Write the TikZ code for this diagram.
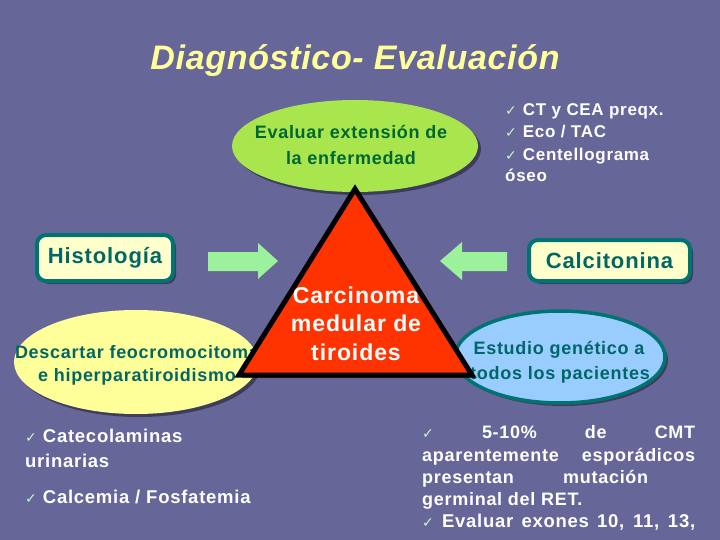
\documentclass[tikz,border=0pt]{standalone}
\usepackage{fontspec}
\setmainfont{Liberation Sans}[LetterSpace=4]
\newfontfamily\symfont{DejaVu Sans}
\usetikzlibrary{shapes.geometric,shadows}
\definecolor{bg}{HTML}{666699}
\definecolor{titleyellow}{HTML}{FFFF99}
\definecolor{limegreen}{HTML}{A9E64D}
\definecolor{darkgreen}{HTML}{006633}
\definecolor{teal}{HTML}{006666}
\definecolor{tealborder}{HTML}{007373}
\definecolor{paleyellow}{HTML}{FFFFCC}
\definecolor{ellyellow}{HTML}{FFFF99}
\definecolor{ellblue}{HTML}{99CCFF}
\definecolor{tred}{HTML}{FF3300}
\definecolor{arrowgreen}{HTML}{9CF29C}
\definecolor{checkgreen}{HTML}{C8F8C8}
\newcommand{\chk}{{\symfont\fontsize{14}{14}\selectfont\color{checkgreen}✓}}
\newcommand{\fsz}[1]{\fontsize{#1}{#1}\selectfont}
\begin{document}
\begin{tikzpicture}[x=1pt,y=-1pt,
  shad/.style={drop shadow={shadow xshift=3pt,shadow yshift=-3pt,fill=black,opacity=0.4}},
  txt/.style={inner sep=0pt,anchor=base,font=\bfseries},
  wline/.style={inner sep=0pt,anchor=base west,text=white,font=\bfseries},
  box/.style={draw=tealborder,line width=4pt,rounded corners=9pt,fill=paleyellow,text=teal,font=\fsz{22}\bfseries,inner sep=0pt,shad},
  oval/.style={ellipse,inner sep=0pt,shad}
]
\fill[bg] (0,0) rectangle (720,540);
\useasboundingbox (0,0) rectangle (720,540);

% title
\node[txt,text=titleyellow,font=\fsz{34}\bfseries\itshape] (title) at (355,70) {\addfontfeature{LetterSpace=2}Diagnóstico- Evaluación};

% green ellipse
\node[oval,fill=limegreen,minimum width=246pt,minimum height=92pt] (green) at (355,146) {};
\node[txt,text=darkgreen,font=\fsz{18}\bfseries] (g1) at (351,139) {Evaluar extensión de};
\node[txt,text=darkgreen,font=\fsz{18}\bfseries] (g2) at (351,165) {la enfermedad};

% top right list
\node[wline,font=\fsz{17}\bfseries] (tr1) at (505,116) {\chk\hspace{6pt}CT y CEA preqx.};
\node[wline,font=\fsz{17}\bfseries] (tr2) at (505,138) {\chk\hspace{6pt}Eco / TAC};
\node[wline,font=\fsz{17}\bfseries] (tr3) at (505,161) {\chk\hspace{6pt}Centellograma};
\node[wline,font=\fsz{17}\bfseries] (tr4) at (505,182) {óseo};

% boxes
\node[box,minimum width=136pt,minimum height=46pt] (histo) at (105,258) {Histología};
\node[box,minimum width=161pt,minimum height=41pt] (calci) at (609.5,260.5) {Calcitonina};

% block arrows
\fill[arrowgreen] (208,252) -- (258,252) -- (258,243) -- (278,261) -- (258,279) -- (258,271) -- (208,271) -- cycle;
\fill[arrowgreen] (507,252) -- (462,252) -- (462,242) -- (440,261) -- (462,280) -- (462,271) -- (507,271) -- cycle;

% yellow ellipse
\node[oval,fill=ellyellow,minimum width=244pt,minimum height=104pt] (yell) at (136,362) {};
\node[txt,text=teal,font=\fsz{18}\bfseries] (y1) at (137,358) {Descartar feocromocitoma};
\node[txt,text=teal,font=\fsz{18}\bfseries] (y2) at (137,381) {e hiperparatiroidismo};

% blue ellipse
\node[oval,fill=ellblue,draw=tealborder,line width=3.5pt,minimum width=210pt,minimum height=92pt] (blue) at (560,357) {};
\node[txt,text=teal,font=\fsz{18}\bfseries] (b1) at (559,354) {Estudio genético a};
\node[txt,text=teal,font=\fsz{18}\bfseries] (b2) at (560,379) {todos los pacientes};

% triangle
\draw[fill=tred,line width=5pt,line join=miter,shad] (355,189) -- (239,375) -- (472,375) -- cycle;
\node[txt,text=white,font=\fsz{23}\bfseries] (c1) at (356,303) {Carcinoma};
\node[txt,text=white,font=\fsz{23}\bfseries] (c2) at (356,331) {medular de};
\node[txt,text=white,font=\fsz{23}\bfseries] (c3) at (356,360) {tiroides};

% bottom left list
\node[wline,font=\fsz{18.5}\bfseries] (bl1) at (25,442) {\chk\hspace{6pt}Catecolaminas};
\node[wline,font=\fsz{18.5}\bfseries] (bl2) at (25,467) {urinarias};
\node[wline,font=\fsz{18.5}\bfseries] (bl3) at (25,503) {\chk\hspace{6pt}Calcemia / Fosfatemia};

% bottom right list
\node[wline,font=\fsz{18}\bfseries] (br1) at (422,438) {\makebox[273pt][s]{\chk\ 5-10\% de CMT}};
\node[wline,font=\fsz{18}\bfseries] (br2) at (422,461) {\makebox[273pt][s]{aparentemente esporádicos}};
\node[wline,font=\fsz{18}\bfseries] (br3) at (422,483) {\makebox[226pt][s]{presentan mutación}};
\node[wline,font=\fsz{18}\bfseries] (br4) at (422,505) {germinal del RET.};
\node[wline,font=\fsz{18.5}\bfseries] (br5) at (422,527) {\makebox[273pt][s]{\chk\ Evaluar exones 10, 11, 13,}};
\end{tikzpicture}
\end{document}
